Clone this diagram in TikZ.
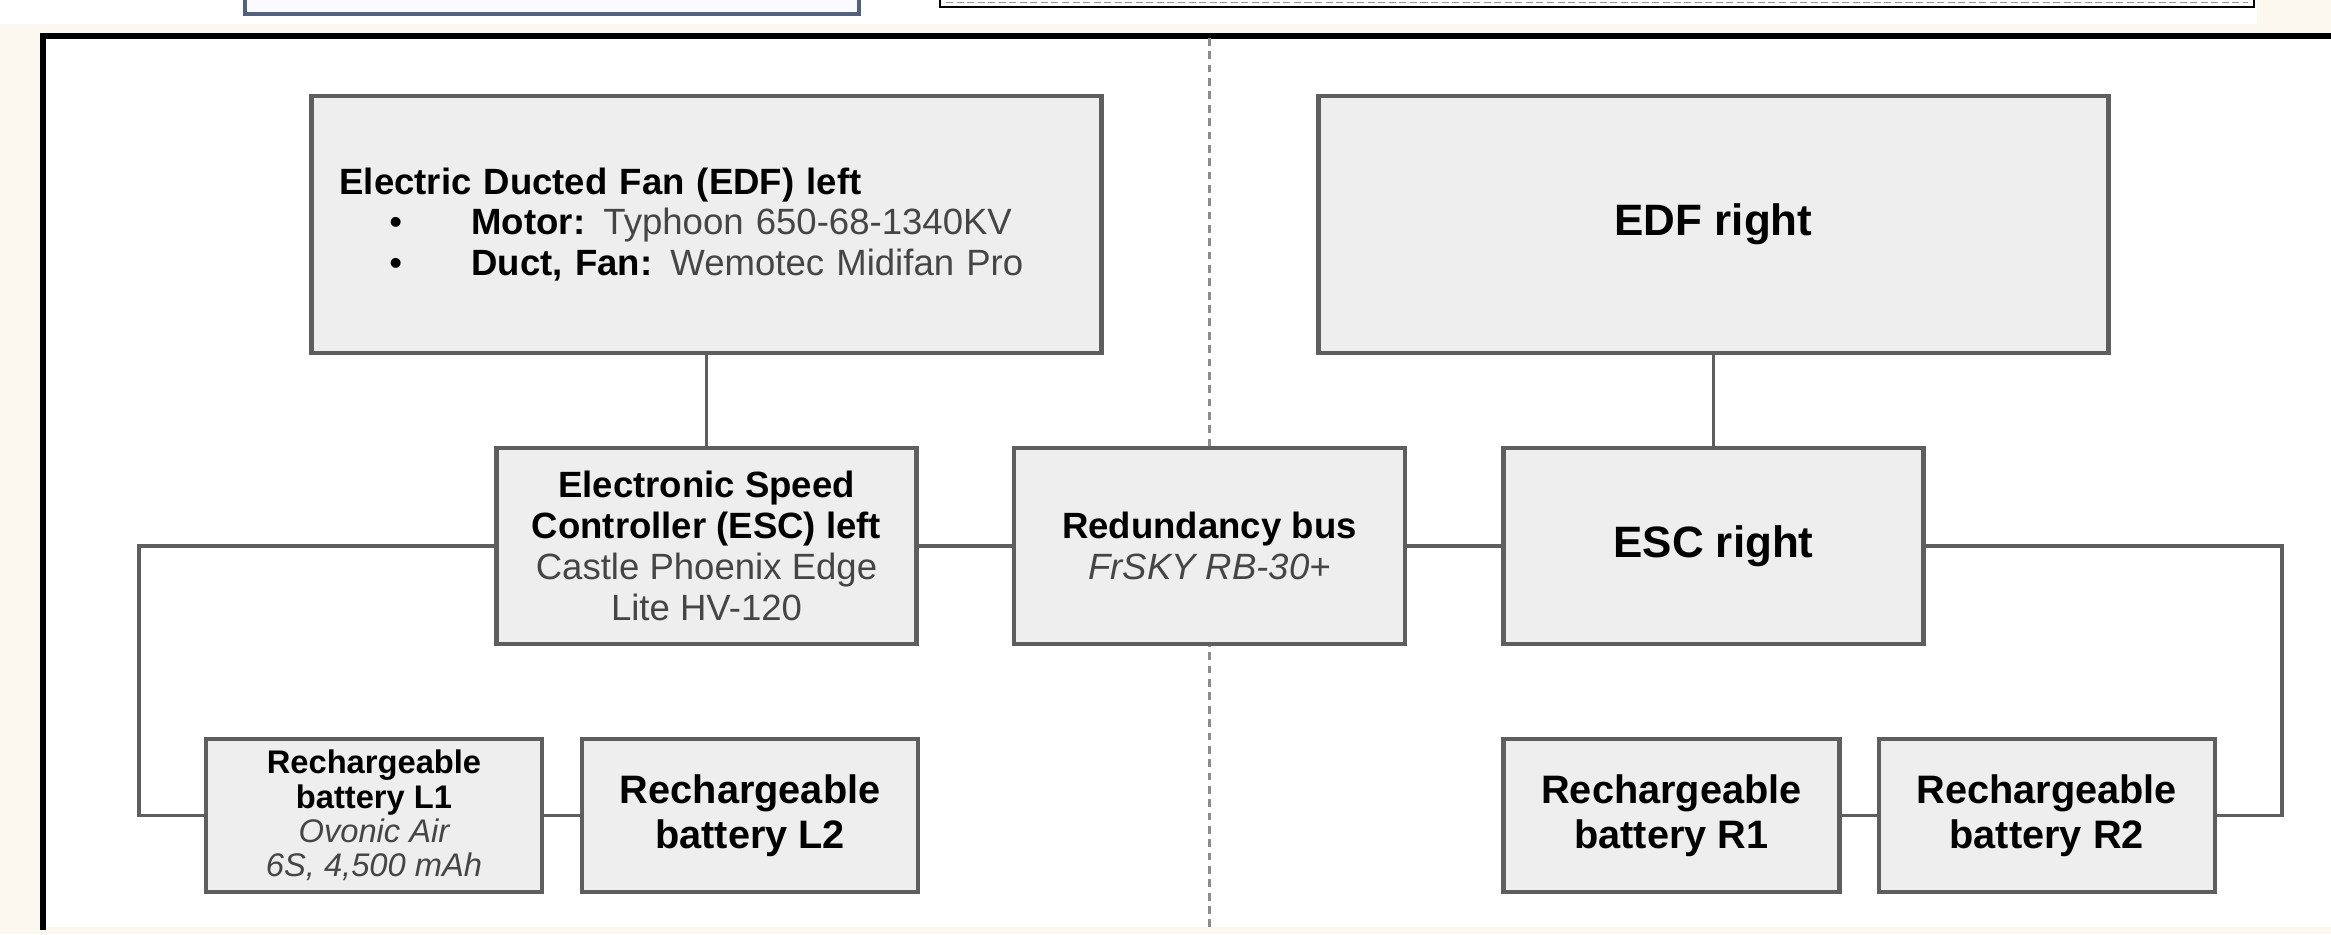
\documentclass[tikz,border=0pt]{standalone}
\usepackage{fontspec}
\setmainfont{Liberation Sans}
\usepackage{xcolor}
\usepackage{tikz}
\usetikzlibrary{positioning}

\definecolor{boxgray}{HTML}{EEEEEE}
\definecolor{linegray}{HTML}{5E5E5E}
\definecolor{specgray}{HTML}{454545}
\definecolor{cream}{HTML}{FDF8EF}
\definecolor{slate}{HTML}{52627E}

\newcommand{\spec}[1]{\textcolor{specgray}{#1}}
\newcommand{\bulletitem}{\hspace*{0.5cm}\makebox[0.82cm][l]{\textbullet}}

\begin{document}
\begin{tikzpicture}[
    unit/.style={rectangle, draw=linegray, line width=1.2pt, fill=boxgray, align=center, inner sep=0pt, font=\fontsize{10.4}{11.6}\selectfont},
    edfbox/.style={unit, minimum width=7.9cm, minimum height=2.57cm},
    escbox/.style={unit, minimum width=4.2cm, minimum height=1.96cm},
    battbox/.style={unit, minimum width=3.36cm, minimum height=1.53cm, font=\fontsize{11.3}{12.8}\selectfont\bfseries},
    bigtitle/.style={font=\fontsize{12.5}{14}\selectfont\bfseries},
    wire/.style={draw=linegray, line width=0.9pt},
    divider/.style={draw=black!45, line width=0.6pt, dash pattern=on 2.2pt off 1.6pt}
]
    \useasboundingbox (0,0) rectangle (23.31,-9.34);

    % Page background and frame
    \fill[cream] (0,0) rectangle (23.31,-9.34);
    \fill[white] (0,0) rectangle (22.57,-0.24);
    \fill[white] (0.43,-0.36) rectangle (23.31,-9.27);
    \draw[slate, line width=1.1pt, fill=blue!2] (2.45,0.3) rectangle (8.59,-0.14);
    \draw[black, line width=0.8pt, fill=white] (9.40,0.3) rectangle (22.54,-0.07);
    \draw[gray!80, line width=0.5pt, dash pattern=on 2pt off 1pt] (9.46,-0.025) -- (22.48,-0.025);
    \draw[black, line width=1.6pt] (0.43,-9.30) -- (0.43,-0.36) -- (23.40,-0.36);

    % Left / right split
    \draw[divider] (12.095,-0.38) -- (12.095,-9.27);

    % Fans
    \node[edfbox, align=left, text width=7.34cm, inner xsep=0.28cm] (EDFL) at (7.065,-2.245)
        {\textbf{Electric Ducted Fan (EDF) left}\\
         \bulletitem\textbf{Motor:} \spec{Typhoon 650-68-1340KV}\\
         \bulletitem\textbf{Duct, Fan:} \spec{Wemotec Midifan Pro}};
    \node[edfbox, bigtitle] (EDFR) at (17.135,-2.245) {EDF right};

    % Controllers and bus
    \node[escbox] (ESCL) at (7.065,-5.46) {\textbf{Electronic Speed}\\ \textbf{Controller (ESC) left}\\ \spec{Castle Phoenix Edge}\\ \spec{Lite HV-120}};
    \node[escbox, minimum width=3.91cm] (BUS) at (12.095,-5.46) {\textbf{Redundancy bus}\\ \spec{\itshape FrSKY RB-30+}};
    \node[escbox, bigtitle] (ESCR) at (17.135,-5.46) {ESC right};

    % Batteries
    \node[battbox, font=\fontsize{9.3}{9.8}\selectfont] (BATL1) at (3.74,-8.155) {\textbf{Rechargeable}\\ \textbf{battery L1}\\ \spec{\itshape Ovonic Air}\\ \spec{\itshape 6S, 4,500 mAh}};
    \node[battbox, right=0.36cm of BATL1] (BATL2) {Rechargeable\\ battery L2};
    \node[battbox] (BATR1) at (16.715,-8.155) {Rechargeable\\ battery R1};
    \node[battbox, right=0.35cm of BATR1] (BATR2) {Rechargeable\\ battery R2};

    % Wiring
    \coordinate (lbend) at (1.39,-5.46);
    \coordinate (rbend) at (22.82,-5.46);
    \draw[wire] (EDFL) -- (ESCL);
    \draw[wire] (EDFR) -- (ESCR);
    \draw[wire] (ESCL) -- (BUS);
    \draw[wire] (BUS) -- (ESCR);
    \draw[wire] (ESCL.west) -- (lbend) |- (BATL1.west);
    \draw[wire] (BATL1) -- (BATL2);
    \draw[wire] (ESCR.east) -- (rbend) |- (BATR2.east);
    \draw[wire] (BATR1) -- (BATR2);
\end{tikzpicture}
\end{document}
